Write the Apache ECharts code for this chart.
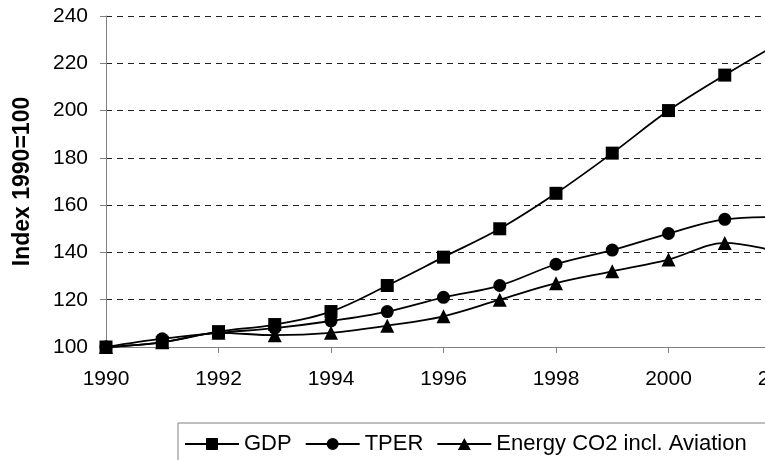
<!DOCTYPE html>
<html>
<head>
<meta charset="utf-8">
<script src="https://cdn.jsdelivr.net/npm/echarts@6/dist/echarts.min.js"></script>
<style>
html,body{margin:0;padding:0;background:#fff;}
#chart{width:765px;height:460px;}
</style>
</head>
<body>
<div id="chart"></div>
<script>
var years = [1990, 1991, 1992, 1993, 1994, 1995, 1996, 1997, 1998, 1999, 2000, 2001, 2002];
var gdp  = [100, 102, 106.5, 109.5, 115, 126, 138, 150, 165, 182, 200, 215, 229];
var tper = [100, 103.5, 106, 108, 111, 115, 121, 126, 135, 141, 148, 154, 155];
var co2  = [100, 102, 106, 105, 106, 109, 113, 120, 127, 132, 137, 144, 140];
var seriesNames = ['GDP', 'TPER', 'Energy CO2 incl. Aviation'];
var yAxisTitle = 'Index 1990=100';

function pairs(vals) {
  return years.map(function (y, i) { return [y, vals[i]]; });
}

var FONT = '"Liberation Sans", Arial, sans-serif';
var iconSquare = 'path://M0,5h54v2h-54z M21,0h12v12h-12z';
var iconCircle = 'path://M0,5h54v2h-54z M33,6a6,6 0 1,1 -12,0a6,6 0 1,1 12,0z';
var iconTri = 'path://M0,5h54v2h-54z M27,0L33.5,12L20.5,12z';

function mkSeries(name, vals, symbol, size) {
  return {
    name: name,
    type: 'line',
    data: pairs(vals),
    smooth: 0.35,
    symbol: symbol,
    symbolSize: size,
    showAllSymbol: true,
    clip: false,
    color: '#000',
    lineStyle: { color: '#000', width: 1.8 },
    itemStyle: { color: '#000', borderWidth: 0 },
    emphasis: { disabled: true },
    animation: false
  };
}

var chart = echarts.init(document.getElementById('chart'), null, { renderer: 'canvas' });
chart.setOption({
  animation: false,
  backgroundColor: '#fff',
  textStyle: { fontFamily: FONT },
  grid: { left: 106, top: 16, width: 675, height: 331, containLabel: false, outerBoundsMode: 'none' },
  legend: {
    left: 178,
    top: 423,
    width: 700,
    orient: 'horizontal',
    padding: [10, 40, 30, 7],
    itemGap: 14,
    itemWidth: 54,
    itemHeight: 12,
    borderColor: '#808080',
    borderWidth: 1,
    selectedMode: false,
    textStyle: { fontFamily: FONT, fontSize: 22, color: '#000' },
    data: [
      { name: seriesNames[0], icon: iconSquare, itemStyle: { color: '#000' } },
      { name: seriesNames[1], icon: iconCircle, itemStyle: { color: '#000' } },
      { name: seriesNames[2], icon: iconTri, itemStyle: { color: '#000' } }
    ]
  },
  xAxis: {
    type: 'value',
    min: 1990,
    max: 2002,
    interval: 2,
    axisLine: { show: true, lineStyle: { color: '#808080', width: 1 } },
    axisTick: { show: true, length: 6, lineStyle: { color: '#808080' } },
    axisLabel: { fontFamily: FONT, fontSize: 21, color: '#000', margin: 22, showMaxLabel: true,
      formatter: function (v) { return String(v); } },
    splitLine: { show: false }
  },
  yAxis: {
    type: 'value',
    min: 100,
    max: 240,
    interval: 20,
    name: yAxisTitle,
    nameLocation: 'middle',
    nameGap: 72,
    nameRotate: 90,
    nameTextStyle: { fontFamily: FONT, fontSize: 23, fontWeight: 'bold', color: '#000' },
    axisLine: { show: true, lineStyle: { color: '#808080', width: 1 } },
    axisTick: { show: true, length: 6, lineStyle: { color: '#808080' } },
    axisLabel: { fontFamily: FONT, fontSize: 21, color: '#000', margin: 18 },
    splitLine: { show: true, lineStyle: { color: '#222', type: [6, 5], width: 1 } }
  },
  series: [
    mkSeries(seriesNames[0], gdp, 'rect', 13),
    mkSeries(seriesNames[1], tper, 'circle', 13),
    mkSeries(seriesNames[2], co2, 'triangle', 14)
  ]
});
</script>
</body>
</html>
